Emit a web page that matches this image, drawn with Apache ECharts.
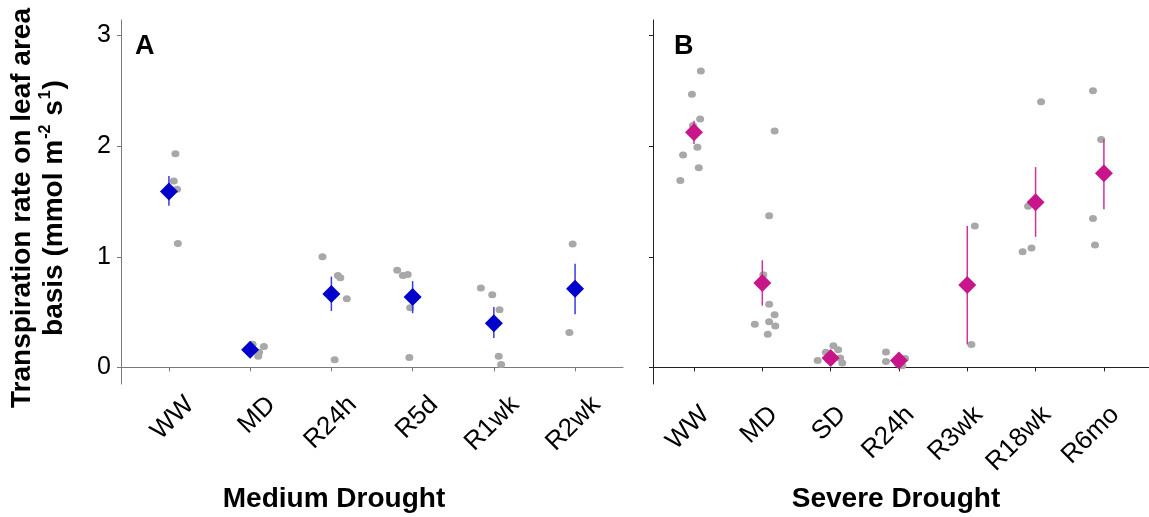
<!DOCTYPE html>
<html lang="en">
<head>
    <meta charset="UTF-8">
    <title>Transpiration rate</title>
    <script src="https://cdn.jsdelivr.net/npm/echarts@6/dist/echarts.min.js"></script>
    <style>
        *{margin:0;padding:0;}
        html,body{width:100%;height:100%;background:#fff;}
        #chart{width:1149px;height:517px;}
    </style>
</head>
<body>
    <div id="chart"></div>
    <script>
        // categories
        var catsA = ["WW", "MD", "R24h", "R5d", "R1wk", "R2wk"];
        var catsB = ["WW", "MD", "SD", "R24h", "R3wk", "R18wk", "R6mo"];
        var yTicks = [0, 1, 2, 3];

        // raw points [jittered position, value]
        var pointsA = [
            [1.08, 1.93], [1.06, 1.685], [1.10, 1.61], [1.11, 1.12],
            [2.03, 0.21], [2.17, 0.19], [2.11, 0.136], [2.10, 0.10],
            [2.89, 1.00], [3.08, 0.83], [3.11, 0.81], [3.19, 0.62], [3.04, 0.07],
            [3.81, 0.877], [3.88, 0.83], [3.94, 0.84], [3.97, 0.54], [3.96, 0.09],
            [4.84, 0.717], [4.98, 0.657], [5.07, 0.52], [5.06, 0.10], [5.09, 0.027],
            [5.97, 1.115], [5.93, 0.316]
        ];
        var pointsB = [
            [1.10, 2.68], [0.97, 2.47], [1.09, 2.245], [0.985, 2.186], [1.05, 1.99],
            [0.84, 1.92], [1.07, 1.805], [0.80, 1.69],
            [2.18, 2.137], [2.10, 1.37], [2.015, 0.838], [2.10, 0.57], [2.18, 0.476],
            [2.10, 0.413], [2.19, 0.374], [1.89, 0.389], [2.08, 0.30],
            [3.04, 0.196], [3.11, 0.16], [2.93, 0.136], [2.81, 0.063], [2.97, 0.07],
            [3.14, 0.084], [3.17, 0.04],
            [3.81, 0.139], [3.81, 0.054], [4.09, 0.081], [4.05, 0.015], [3.98, 0.033],
            [5.11, 1.278], [5.06, 0.208],
            [6.08, 2.40], [5.89, 1.456], [5.94, 1.08], [5.81, 1.046],
            [6.84, 2.50], [6.96, 2.06], [6.84, 1.345], [6.87, 1.106]
        ];

        // means and error bar ends
        var meanA = [1.59, 0.16, 0.663, 0.636, 0.40, 0.711];
        var lowA  = [1.46, 0.13, 0.51, 0.49, 0.265, 0.48];
        var highA = [1.73, 0.19, 0.82, 0.78, 0.545, 0.937];
        var meanB = [2.125, 0.763, 0.084, 0.063, 0.745, 1.492, 1.755];
        var lowB  = [2.02, 0.558, 0.06, 0.045, 0.208, 1.18, 1.43];
        var highB = [2.23, 0.968, 0.11, 0.08, 1.278, 1.81, 2.06];

        var blue = "#0000cc", blueBar = "#3b3bdd";
        var pink = "#c8168a", pinkBar = "#d2339a";
        var grey = "#a8a8a8";
        var font = "Liberation Sans";

        function meanData(m){
            return m.map(function(v, i){ return [i + 1, v]; });
        }
        function barData(lo, hi){
            return lo.map(function(v, i){ return [i + 1, v, hi[i]]; });
        }
        function errBar(color){
            return function(params, api){
                var p1 = api.coord([api.value(0), api.value(1)]);
                var p2 = api.coord([api.value(0), api.value(2)]);
                return {
                    type: "line",
                    shape: {x1: p1[0], y1: p1[1], x2: p2[0], y2: p2[1]},
                    style: {stroke: color, lineWidth: 1.5}
                };
            };
        }
        function xAxis(idx, cats, min, max, lineColor, shift){
            var vals = cats.map(function(c, i){ return i + 1; });
            return {
                type: "value", gridIndex: idx, min: min, max: max,
                splitLine: {show: false},
                axisLine: {show: true, lineStyle: {color: lineColor, width: 1}},
                axisTick: {show: true, length: 4, customValues: vals, lineStyle: {color: lineColor}},
                axisLabel: {
                    customValues: vals, rotate: 45, margin: 38,
                    padding: [0, -shift, 0, 0],
                    fontFamily: font, fontSize: 26, color: "#000",
                    formatter: function(v){ return cats[Math.round(v) - 1]; }
                }
            };
        }
        function yAxis(idx, showLabel, lineColor){
            return {
                type: "value", gridIndex: idx, min: -0.15, max: 3.14,
                splitLine: {show: false},
                axisLine: {show: true, lineStyle: {color: lineColor, width: 1}},
                axisTick: {show: true, length: 4, customValues: yTicks, lineStyle: {color: lineColor}},
                axisLabel: {
                    show: showLabel, customValues: yTicks, margin: 10,
                    fontFamily: font, fontSize: 25, color: "#000"
                }
            };
        }

        var myChart = echarts.init(document.getElementById("chart"));
        var option = {
            animation: false,
            grid: [
                {left: 121, right: 526, top: 20, bottom: 133},
                {left: 653, right: 0, top: 20, bottom: 133}
            ],
            xAxis: [
                xAxis(0, catsA, 0.41, 6.59, "#7a7a7a", 30),
                xAxis(1, catsB, 0.40, 7.66, "#222", 16)
            ],
            yAxis: [
                yAxis(0, true, "#7a7a7a"),
                yAxis(1, false, "#222")
            ],
            graphic: [
                {type: "text", x: 135, y: 47, style: {text: "A", font: "bold 27px Liberation Sans", fill: "#000", verticalAlign: "middle"}},
                {type: "text", x: 674, y: 47, style: {text: "B", font: "bold 27px Liberation Sans", fill: "#000", verticalAlign: "middle"}},
                {type: "text", x: 334, y: 499, style: {text: "Medium Drought", font: "bold 28px Liberation Sans", fill: "#000", align: "center", verticalAlign: "middle"}},
                {type: "text", x: 896, y: 499, style: {text: "Severe Drought", font: "bold 28px Liberation Sans", fill: "#000", align: "center", verticalAlign: "middle"}},
                {
                    type: "text", x: 38, y: 208, rotation: Math.PI / 2,
                    style: {
                        text: "{t|Transpiration rate on leaf area}\n{t|basis (mmol m}{s|-2}{t| s}{s|1}{t|)}",
                        align: "center", verticalAlign: "middle", fill: "#000",
                        rich: {
                            t: {fontFamily: font, fontWeight: "bold", fontSize: 28, lineHeight: 32},
                            s: {fontFamily: font, fontWeight: "bold", fontSize: 16, lineHeight: 32, verticalAlign: "top", padding: [0, 1, 14, 1]}
                        }
                    }
                }
            ],
            series: [
                {type: "scatter", xAxisIndex: 0, yAxisIndex: 0, data: pointsA, symbol: "circle", symbolSize: [8, 7], itemStyle: {color: grey, opacity: 1}, z: 1},
                {type: "custom", xAxisIndex: 0, yAxisIndex: 0, data: barData(lowA, highA), renderItem: errBar(blueBar), encode: {x: 0, y: [1, 2]}, z: 2},
                {type: "scatter", xAxisIndex: 0, yAxisIndex: 0, data: meanData(meanA), symbol: "diamond", symbolSize: [18, 18], itemStyle: {color: blue, opacity: 1}, z: 3},
                {type: "scatter", xAxisIndex: 1, yAxisIndex: 1, data: pointsB, symbol: "circle", symbolSize: [8, 7], itemStyle: {color: grey, opacity: 1}, z: 1},
                {type: "custom", xAxisIndex: 1, yAxisIndex: 1, data: barData(lowB, highB), renderItem: errBar(pinkBar), encode: {x: 0, y: [1, 2]}, z: 2},
                {type: "scatter", xAxisIndex: 1, yAxisIndex: 1, data: meanData(meanB), symbol: "diamond", symbolSize: [18, 18], itemStyle: {color: pink, opacity: 1}, z: 3}
            ]
        };
        myChart.setOption(option);
        window.onresize = myChart.resize;
    </script>
</body>
</html>
